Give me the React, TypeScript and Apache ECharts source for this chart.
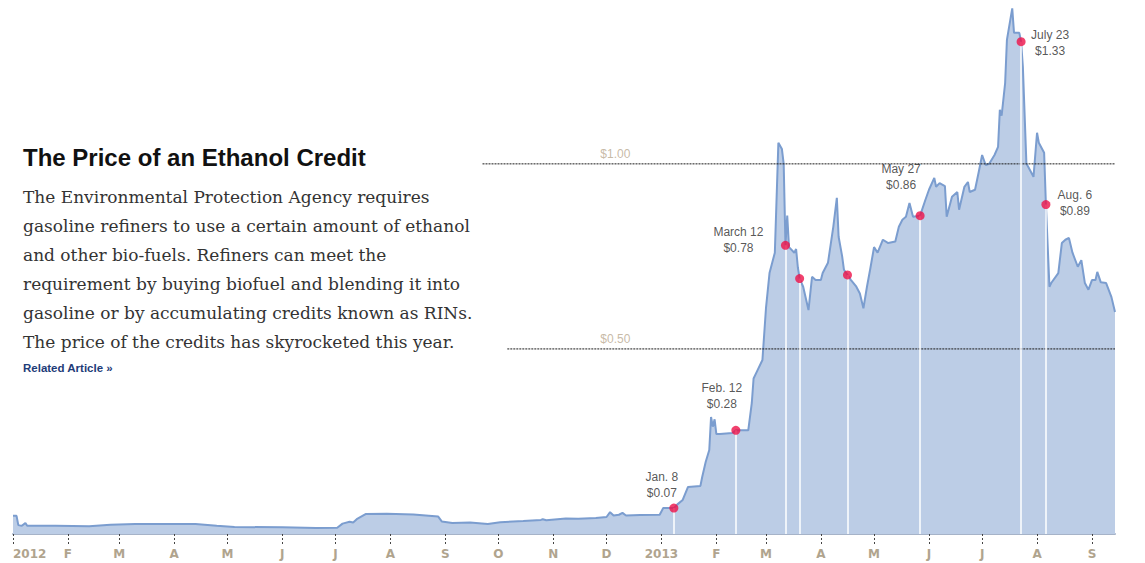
import React, { useEffect, useRef } from "react";
import * as echarts from "echarts";

// ---------- data ----------
const prices2012: [string, number][] = [
  ["2012-01-01", 0.049], ["2012-01-03", 0.049], ["2012-01-04", 0.024], ["2012-01-06", 0.022],
  ["2012-01-08", 0.03], ["2012-01-09", 0.022], ["2012-01-25", 0.022], ["2012-02-13", 0.021],
  ["2012-02-25", 0.025], ["2012-03-10", 0.027], ["2012-04-13", 0.027], ["2012-04-25", 0.022],
  ["2012-05-05", 0.019], ["2012-06-01", 0.018], ["2012-06-20", 0.016], ["2012-07-02", 0.017],
  ["2012-07-05", 0.028], ["2012-07-09", 0.033], ["2012-07-11", 0.031], ["2012-07-13", 0.04],
  ["2012-07-18", 0.054], ["2012-07-30", 0.055], ["2012-08-14", 0.053], ["2012-08-28", 0.047],
  ["2012-08-30", 0.034], ["2012-09-05", 0.03], ["2012-09-15", 0.031], ["2012-09-25", 0.027],
  ["2012-10-02", 0.032], ["2012-10-15", 0.035], ["2012-10-25", 0.038], ["2012-10-26", 0.04],
  ["2012-10-28", 0.037], ["2012-11-08", 0.042], ["2012-11-15", 0.041], ["2012-11-25", 0.043],
  ["2012-12-01", 0.046], ["2012-12-03", 0.059], ["2012-12-05", 0.05], ["2012-12-08", 0.052],
  ["2012-12-10", 0.057], ["2012-12-12", 0.05], ["2012-12-20", 0.051], ["2012-12-31", 0.052],
];

const prices2013: [string, number][] = [
  ["2013-01-02", 0.07], ["2013-01-08", 0.07], ["2013-01-10", 0.08], ["2013-01-13", 0.092],
  ["2013-01-16", 0.127], ["2013-01-23", 0.13], ["2013-01-24", 0.154], ["2013-01-26", 0.195],
  ["2013-01-28", 0.227], ["2013-01-29", 0.316], ["2013-01-30", 0.29], ["2013-01-31", 0.31],
  ["2013-02-01", 0.27], ["2013-02-03", 0.27], ["2013-02-10", 0.273], ["2013-02-12", 0.28],
  ["2013-02-19", 0.28], ["2013-02-21", 0.354], ["2013-02-22", 0.42], ["2013-02-24", 0.44],
  ["2013-02-27", 0.47], ["2013-03-01", 0.61], ["2013-03-03", 0.705], ["2013-03-06", 0.76],
  ["2013-03-08", 1.057], ["2013-03-10", 1.04], ["2013-03-11", 1.0], ["2013-03-12", 0.78],
  ["2013-03-13", 0.86], ["2013-03-14", 0.775], ["2013-03-17", 0.76], ["2013-03-18", 0.77],
  ["2013-03-19", 0.72], ["2013-03-20", 0.69], ["2013-03-22", 0.668], ["2013-03-25", 0.605],
  ["2013-03-27", 0.695], ["2013-03-29", 0.686], ["2013-04-01", 0.686], ["2013-04-02", 0.705],
  ["2013-04-05", 0.733], ["2013-04-08", 0.83], ["2013-04-10", 0.908], ["2013-04-11", 0.803],
  ["2013-04-13", 0.75], ["2013-04-14", 0.714], ["2013-04-16", 0.7], ["2013-04-18", 0.686],
  ["2013-04-21", 0.668], ["2013-04-23", 0.65], ["2013-04-25", 0.61], ["2013-04-27", 0.668],
  ["2013-04-29", 0.72], ["2013-05-01", 0.775], ["2013-05-03", 0.76], ["2013-05-06", 0.795],
  ["2013-05-09", 0.786], ["2013-05-13", 0.79], ["2013-05-15", 0.83], ["2013-05-17", 0.849],
  ["2013-05-19", 0.857], ["2013-05-21", 0.894], ["2013-05-23", 0.857], ["2013-05-27", 0.86],
  ["2013-05-30", 0.903], ["2013-06-01", 0.93], ["2013-06-04", 0.962], ["2013-06-05", 0.938],
  ["2013-06-07", 0.948], ["2013-06-10", 0.94], ["2013-06-11", 0.857], ["2013-06-14", 0.911],
  ["2013-06-17", 0.924], ["2013-06-18", 0.876], ["2013-06-21", 0.938], ["2013-06-23", 0.951],
  ["2013-06-24", 0.924], ["2013-06-27", 0.93], ["2013-06-29", 0.976], ["2013-07-01", 1.024],
  ["2013-07-03", 0.997], ["2013-07-05", 1.0], ["2013-07-08", 1.024], ["2013-07-10", 1.046],
  ["2013-07-11", 1.146], ["2013-07-12", 1.13], ["2013-07-14", 1.219], ["2013-07-15", 1.335],
  ["2013-07-18", 1.42], ["2013-07-19", 1.354], ["2013-07-22", 1.354], ["2013-07-23", 1.33],
  ["2013-07-24", 1.262], ["2013-07-26", 1.0], ["2013-07-27", 0.992], ["2013-07-30", 0.965],
  ["2013-08-01", 1.084], ["2013-08-02", 1.057], ["2013-08-05", 1.03], ["2013-08-06", 0.89],
  ["2013-08-08", 0.668], ["2013-08-09", 0.678], ["2013-08-13", 0.705], ["2013-08-15", 0.786],
  ["2013-08-17", 0.795], ["2013-08-19", 0.8], ["2013-08-21", 0.76], ["2013-08-24", 0.722],
  ["2013-08-26", 0.74], ["2013-08-28", 0.678], ["2013-08-30", 0.66], ["2013-09-01", 0.686],
  ["2013-09-03", 0.686], ["2013-09-04", 0.708], ["2013-09-06", 0.68], ["2013-09-09", 0.678],
  ["2013-09-12", 0.64], ["2013-09-14", 0.6],
];

const markerDates = ["2013-01-08", "2013-02-12", "2013-03-12", "2013-03-20", "2013-04-16", "2013-05-27", "2013-07-23", "2013-08-06"];
const markerValues = [0.07, 0.28, 0.78, 0.69, 0.7, 0.86, 1.33, 0.89];
const markerTitles = ["Jan. 8", "Feb. 12", "March 12", "", "", "May 27", "July 23", "Aug. 6"];

const tickMonths = [
  "2012-01-01", "2012-02-01", "2012-03-01", "2012-04-01", "2012-05-01", "2012-06-01", "2012-07-01",
  "2012-08-01", "2012-09-01", "2012-10-01", "2012-11-01", "2012-12-01", "2013-01-01", "2013-02-01",
  "2013-03-01", "2013-04-01", "2013-05-01", "2013-06-01", "2013-07-01", "2013-08-01", "2013-09-01",
];
const tickLabels = ["2012", "F", "M", "A", "M", "J", "J", "A", "S", "O", "N", "D", "2013", "F", "M", "A", "M", "J", "J", "A", "S"];

const gridLevels = [1.0, 0.5];
const gridLevelLabels = ["$1.00", "$0.50"];

const titleText = "The Price of an Ethanol Credit";
const bodyText =
  "The Environmental Protection Agency requires\n" +
  "gasoline refiners to use a certain amount of ethanol\n" +
  "and other bio-fuels. Refiners can meet the\n" +
  "requirement by buying biofuel and blending it into\n" +
  "gasoline or by accumulating credits known as RINs.\n" +
  "The price of the credits has skyrocketed this year.";
const linkText = "Related Article \u00bb";

// ---------- layout (not data) ----------
const axisStart = "2012-01-01";
const axisEnd = "2013-09-14";
const gridLineStarts = ["2012-09-22", "2012-10-06"];
const gridLabelDate = "2012-12-06";
const labelOffsets: ([number, number] | null)[] = [
  [-7.5, -18.5], [-9.5, -30], [-42.5, -1], null, null, [-14.5, -34], [33.5, 5.5], [33.5, 2.5],
];

const ts = (s: string) => {
  const [y, m, d] = s.split("-").map(Number);
  return new Date(y, m - 1, d).getTime();
};

export default function App() {
  const ref = useRef<HTMLDivElement>(null);
  useEffect(() => {
    if (!ref.current) return;
    const chart = echarts.init(ref.current, undefined, { renderer: "svg" });
    const tickTs = tickMonths.map(ts);
    const labelMap = new Map<number, string>();
    tickTs.forEach((t, i) => labelMap.set(t, tickLabels[i]));
    const priceData = [...prices2012, ...prices2013].map(([d, v]) => [ts(d), v]);
    const annotFont = "13px 'Open Sans', sans-serif";

    const markerData = markerDates.map((d, i) => {
      const off = labelOffsets[i];
      const item: any = { value: [ts(d), markerValues[i]] };
      if (markerTitles[i] && off) {
        item.label = {
          show: true,
          position: off,
          align: "center",
          verticalAlign: "middle",
          formatter: markerTitles[i] + "\n$" + markerValues[i].toFixed(2),
          font: annotFont,
          color: "#2b2b2b",
          lineHeight: 16,
        };
      }
      return item;
    });

    chart.setOption({
      animation: false,
      grid: { left: 13, right: 30, top: 1, bottom: 29, containLabel: false },
      xAxis: {
        type: "value",
        min: ts(axisStart),
        max: ts(axisEnd),
        splitLine: { show: false },
        axisLine: { show: true, onZero: false, lineStyle: { color: "#a6b3c8", width: 2 } },
        axisTick: {
          show: true,
          customValues: tickTs,
          length: 12,
          lineStyle: { color: "#444", width: 1, type: [2, 2] },
        },
        axisLabel: {
          show: true,
          customValues: tickTs,
          alignMinLabel: "left",
          margin: 14,
          color: "#b0a48e",
          fontFamily: "'DejaVu Sans', sans-serif",
          fontWeight: "bold",
          fontSize: 12,
          formatter: (v: number) => labelMap.get(v) ?? "",
        },
      },
      yAxis: {
        type: "value",
        min: 0,
        max: 1.44,
        show: false,
        splitLine: { show: false },
      },
      series: [
        {
          type: "line",
          name: "RIN price",
          data: priceData,
          symbol: "none",
          z: 2,
          lineStyle: { color: "#7b9dcf", width: 2 },
          areaStyle: { color: "#bccde6", opacity: 1 },
          markLine: {
            silent: true,
            symbol: ["none", "none"],
            label: { show: false },
            lineStyle: { color: "#ffffff", width: 1.5, type: "solid" },
            data: markerDates.map((d, i) => [
              { coord: [ts(d), markerValues[i]] },
              { coord: [ts(d), 0] },
            ]),
          },
        },
        ...gridLevels.map((lv, i) => ({
          type: "line",
          name: "grid" + i,
          data: [[ts(gridLineStarts[i]), lv], [ts(axisEnd), lv]],
          symbol: "none",
          z: 4,
          lineStyle: { color: "#1a1a1a", width: 1, type: [2, 1] },
        })),
        {
          type: "scatter",
          name: "gridLabels",
          z: 4,
          symbolSize: 0,
          data: gridLevels.map((lv, i) => ({
            value: [ts(gridLabelDate), lv],
            label: {
              show: true,
              position: "top",
              distance: 4,
              formatter: gridLevelLabels[i],
              font: annotFont,
              color: "#b9a88f",
            },
          })),
        },
        {
          type: "scatter",
          name: "markers",
          z: 5,
          symbolSize: 9,
          itemStyle: { color: "#ee1148" },
          data: markerData,
        },
      ],
      graphic: [
        {
          type: "text",
          x: 23,
          y: 145,
          style: {
            text: titleText,
            font: "bold 24px 'Liberation Sans', Arial, sans-serif",
            fill: "#111",
            verticalAlign: "top",
          },
        },
        {
          type: "text",
          x: 23,
          y: 182.5,
          style: {
            text: bodyText,
            font: "17px 'DejaVu Serif', serif",
            lineHeight: 29,
            fill: "#333",
            verticalAlign: "top",
          },
        },
        {
          type: "text",
          x: 23,
          y: 362,
          style: {
            text: linkText,
            font: "bold 11.5px 'Liberation Sans', Arial, sans-serif",
            fill: "#1e3c78",
            verticalAlign: "top",
          },
        },
      ],
    });
    return () => chart.dispose();
  }, []);
  return (
    <div
      ref={ref}
      style={{ position: "absolute", left: 0, top: 0, width: 1145, height: 563, background: "#fff" }}
    />
  );
}
